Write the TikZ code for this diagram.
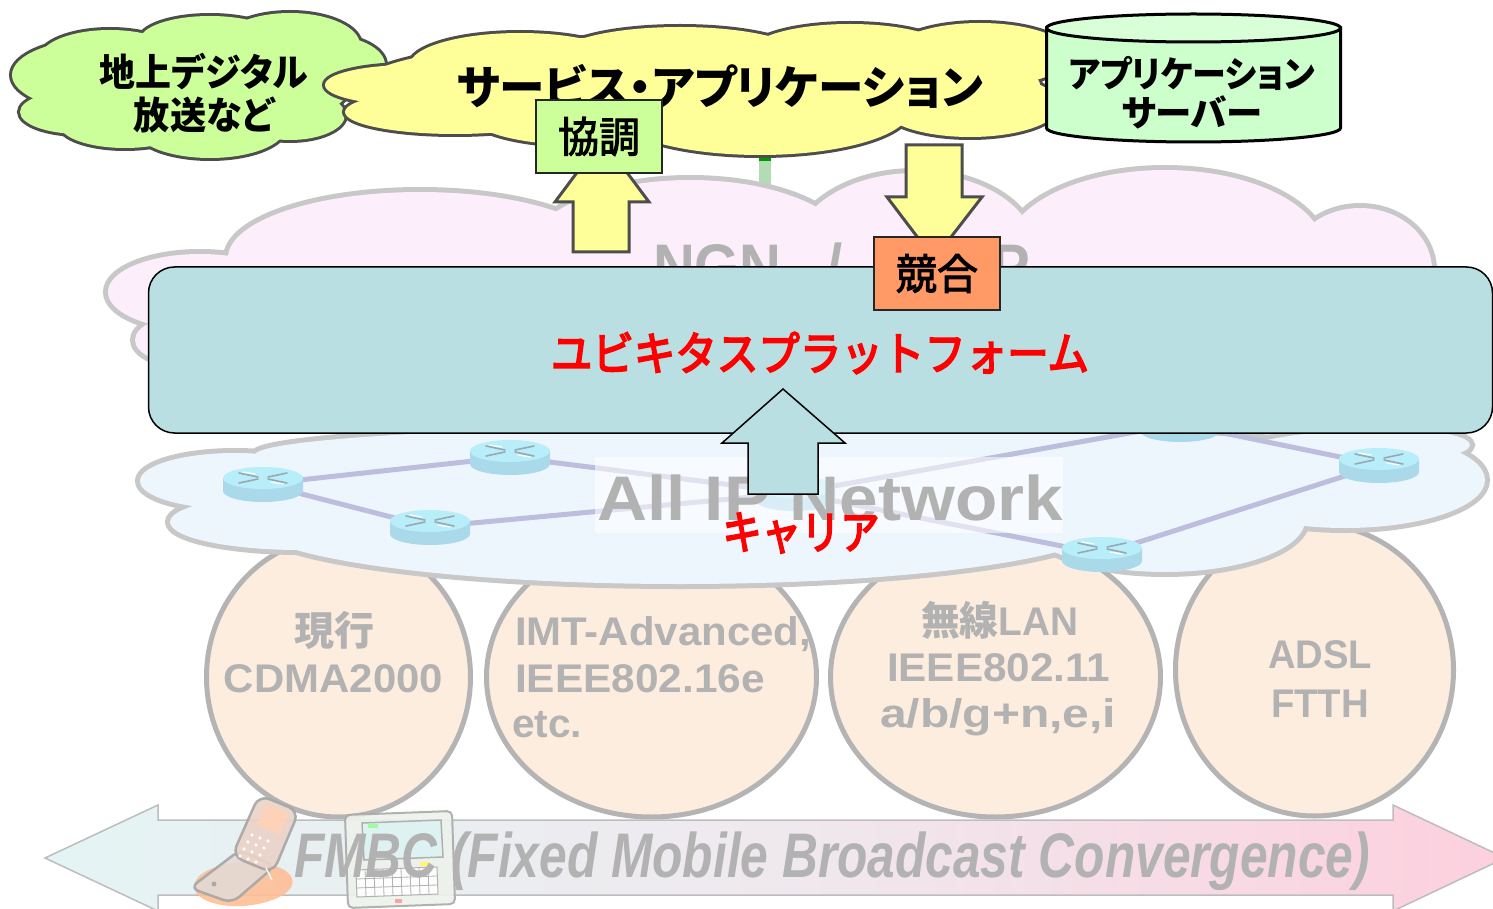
\documentclass[tikz,border=0pt]{standalone}
\usepackage{fontspec}
\usepackage{graphicx}
\setmainfont{Noto Sans CJK JP}[RawFeature=+palt]
\newfontfamily\jpmed{Noto Sans CJK JP}[UprightFeatures={FakeBold=2.5}]
\newfontfamily\jpred{Noto Sans CJK JP}[UprightFeatures={FakeBold=4}]
\newfontfamily\latn{Liberation Sans}
\usetikzlibrary{shapes.geometric}

\definecolor{gtxt}{HTML}{B2B2B2}
\definecolor{cgreen}{HTML}{CCFF99}
\definecolor{cyel}{HTML}{FFFF99}
\definecolor{cline}{HTML}{4D4D4D}
\definecolor{cylfill}{HTML}{CCFFCC}
\definecolor{cyltop}{HTML}{D9FFD9}
\definecolor{ngnfill}{HTML}{FDEEFC}
\definecolor{cloudgray}{HTML}{C8C8C8}
\definecolor{ipfill}{HTML}{EEF6FD}
\definecolor{platfill}{HTML}{B9DFE2}
\definecolor{orng}{HTML}{FF9966}
\definecolor{beige}{HTML}{FDEDDE}
\definecolor{ellline}{HTML}{B4B4B4}
\definecolor{linkc}{HTML}{BDBDDE}
\definecolor{rtop}{HTML}{B8EEFA}
\definecolor{rside}{HTML}{AAD9EA}
\definecolor{rmark}{HTML}{9AA8B0}
\definecolor{arrL}{HTML}{E4F4F4}
\definecolor{arrM}{HTML}{EFE9EE}
\definecolor{arrR}{HTML}{FDD0DE}
\definecolor{arrline}{HTML}{BDBDBD}
\definecolor{lgreen}{HTML}{B2DDB2}
\definecolor{dgreen}{HTML}{009900}
\definecolor{phoneline}{HTML}{A6A6A6}
\definecolor{phonelid}{HTML}{EBD3C8}
\definecolor{phonebody}{HTML}{E4DAD4}
\definecolor{phoneorg}{HTML}{FFBE96}
\definecolor{pdabody}{HTML}{EEF2EC}
\definecolor{pdascreen}{HTML}{DDF3F3}
\definecolor{pdaline}{HTML}{A8ABA8}

% scale a box horizontally to a given width, keeping its height
\newcommand\fitto[2]{\resizebox{#1}{\height}{#2}}
\newcommand\fsz[1]{\fontsize{#1}{#1}\selectfont}
% a cloud as a union of ellipses: outline pass, then fill pass
\newcommand\cloudlobes[4]{%
  \foreach \cx/\cy/\rx/\ry in {#4}{\draw[#2, line width=#3] (\cx,\cy) ellipse [x radius=\rx pt, y radius=\ry pt];}%
  \foreach \cx/\cy/\rx/\ry in {#4}{\fill[#1] (\cx,\cy) ellipse [x radius=\rx pt, y radius=\ry pt];}%
}

\tikzset{
  txt/.style={inner sep=0pt, outer sep=0pt},
  ell/.style={ellipse, draw=ellline, fill=beige, line width=5pt, inner sep=0pt},
  gray label/.style={txt, text=gtxt},
  linkline/.style={linkc, line width=5pt},
  yarrow/.style={fill=cyel, draw=cline, line width=3pt, line join=miter},
  tagbox/.style={draw=black!85, line width=2.5pt, minimum width=126pt, minimum height=73pt, inner sep=0pt},
  router/.pic={
    \fill[rside] (-40,-6) -- (-40,7) arc[start angle=180, end angle=360, x radius=40pt, y radius=11pt] -- (40,-6) -- cycle;
    \fill[rtop] (0,-6) ellipse[x radius=40pt, y radius=11pt];
    \draw[rmark, line width=1.6pt, line cap=round] (-24,-11) -- (-5,-7) (5,-5) -- (24,-1) (-24,-1) -- (-5,-5) (5,-7) -- (24,-11);
    \draw[white, line width=1.2pt, line cap=round] (-20,-12) -- (-8,-10) (8,-2) -- (20,0);
  }
}

\begin{document}
\begin{tikzpicture}[x=1pt, y=-1pt]
\useasboundingbox (0,0) rectangle (1493,909);
\clip (0,0) rectangle (1493,909);
\fill[white] (0,0) rectangle (1493,909);

% link between the service cloud and the NGN cloud
\coordinate (svcfoot) at (765,152);
\coordinate (svcstub) at (765,161);
\coordinate (ngnhead) at (765,196);
\draw[lgreen, line width=12pt] (svcfoot) -- (ngnhead);
\draw[dgreen, line width=12pt] (svcfoot) -- (svcstub);

% NGN cloud
\cloudlobes{ngnfill}{cloudgray}{10pt}{420/258/192/66, 200/292/92/38, 190/340/55/25, 690/250/160/70, 915/250/120/77, 1165/252/160/82, 1360/270/72/62, 800/340/620/90}
\node[gray label, anchor=base west] (ngn) at (653,288) {\latn\bfseries\fsz{63}\scalebox{0.92}[1]{NGN\hspace{49pt}/\hspace{102pt}ISP}};

% access networks
\node[ell, minimum width=264pt, minimum height=280pt] (e1) at (338.5,677) {};
\node[ell, minimum width=330pt, minimum height=280pt] (e2) at (651.5,677) {};
\node[ell, minimum width=330pt, minimum height=280pt] (e3) at (995.5,677) {};
\node[ell, minimum width=278pt, minimum height=292pt] (e4) at (1314.5,670) {};

\node[gray label] (e1a) at (334,630) {\bfseries\fsz{40}\fitto{80pt}{現行}};
\node[gray label, anchor=base] (e1b) at (333.5,692) {\latn\bfseries\fsz{40}\fitto{219pt}{CDMA2000}};
\node[gray label, anchor=base west] (e2a) at (515,645) {\latn\bfseries\fsz{40}\fitto{296pt}{IMT-Advanced,}};
\node[gray label, anchor=base west] (e2b) at (515,692) {\latn\bfseries\fsz{40}\fitto{250pt}{IEEE802.16e}};
\node[gray label, anchor=base west] (e2c) at (512,737) {\latn\bfseries\fsz{40}\fitto{70pt}{etc.}};
\node[gray label, anchor=base] (e3a) at (999.5,635) {\fitto{157pt}{\bfseries\fsz{40}無線{\latn LAN}}};
\node[gray label, anchor=base] (e3b) at (998.5,681) {\latn\bfseries\fsz{40}\fitto{223pt}{IEEE802.11}};
\node[gray label, anchor=base] (e3c) at (998,727) {\latn\bfseries\fsz{40}\fitto{236pt}{a/b/g+n,e,i}};
\node[gray label, anchor=base] (e4a) at (1320,668) {\latn\bfseries\fsz{40}\fitto{104pt}{ADSL}};
\node[gray label, anchor=base] (e4b) at (1320,717) {\latn\bfseries\fsz{40}\fitto{98pt}{FTTH}};

% all-IP cloud
\cloudlobes{ipfill}{cloudgray}{10pt}{235/481/95/28, 300/522/130/28, 680/522/430/62, 1165/520/140/52, 1345/480/140/48, 1400/445/70/15, 800/455/545/30, 800/495/600/55}

% routers and their links
\coordinate (ra) at (263,484);
\coordinate (rb) at (510,457);
\coordinate (rc) at (430,527);
\coordinate (rh) at (795,493);
\coordinate (rd) at (1102,554);
\coordinate (rg) at (1180,424);
\coordinate (re) at (1379,465);
\draw[linkline] (ra) -- (rb) (ra) -- (rc) (rb) -- (rh) (rc) -- (rh) (rh) -- (rd) (rh) -- (rg) (rg) -- (re) (rd) -- (re);
\foreach \r in {ra,rb,rc,rh,rd,rg,re} \pic at (\r) {router};

% label backdrop and label
\fill[white, opacity=0.55] (595,457) rectangle (1063,533);
\node[gray label, anchor=base west] (ipnet) at (597,520) {\latn\bfseries\fsz{63}\fitto{466pt}{All IP Network}};

% ubiquitous platform
\node[draw=black, fill=platfill, line width=1.5pt, rounded corners=26pt, minimum width=1344pt, minimum height=166pt, inner sep=0pt] (plat) at (820.5,350) {};
\node[txt, text=red] (ubiq) at (820,353) {\jpred\fsz{46}\fitto{538pt}{ユビキタスプラットフォーム}};

% carrier arrow into the platform
\path[fill=platfill, draw=black, line width=1.5pt] (783,389) -- (845,443) -- (818,443) -- (818,494) -- (748,494) -- (748,443) -- (722,443) -- cycle;
\node[txt, text=red] (carrier) at (801,533) {\jpred\fsz{46}\fitto{157pt}{キャリア}};

% convergence double arrow
\shadedraw[left color=arrL, right color=arrR, middle color=arrM, draw=arrline, line width=1.5pt]
  (45,858) -- (158,805) -- (158,820) -- (1393,820) -- (1393,805) -- (1505,858) -- (1393,911) -- (1393,895) -- (158,895) -- (158,911) -- cycle;

% handset
\begin{scope}[opacity=0.9]
\fill[phoneorg] (196,880) .. controls (210,858) and (282,856) .. (292,878) .. controls (298,896) and (258,908) .. (230,906) .. controls (206,904) and (188,894) .. (196,880);
\filldraw[fill=phonebody, draw=phoneline, line width=2.5pt, rounded corners=9pt] (240,850) -- (275,866) -- (232,903) -- (190,888) -- cycle;
\filldraw[fill=phonelid, draw=phoneline, line width=2.5pt, rounded corners=11pt] (259,795) -- (299,811) -- (273,873) -- (232,856) -- cycle;
\fill[phoneorg!70!white] (266,804) -- (289,814) -- (280,835) -- (257,825) -- cycle;
\foreach \i in {0,1,2}{\foreach \j in {0,1,2,3}{\fill[white] (252+8*\i-4*\j, 835+7*\j+3*\i) circle[radius=1.8pt];}}
\draw[white, line width=1.5pt] (266,868) -- (272,880);
\fill[phoneline] (214,884) circle[radius=2.5pt];
\end{scope}

% handheld terminal
\begin{scope}[opacity=0.9]
\filldraw[fill=pdabody, draw=pdaline, line width=2pt, rounded corners=5pt] (345,815) -- (452,811) -- (455,904) -- (348,908) -- cycle;
\filldraw[fill=pdascreen, draw=pdaline, line width=1.5pt] (362,823) -- (441,820) -- (443,857) -- (364,860) -- cycle;
\filldraw[fill=white, draw=pdaline, line width=1pt] (356,870) -- (437,867) -- (438,894) -- (357,897) -- cycle;
\foreach \k in {1,...,8}{\draw[pdaline, line width=0.8pt] (356+9*\k, 870-0.33*\k) -- (357+9*\k, 897-0.33*\k);}
\foreach \k in {1,2}{\draw[pdaline, line width=0.8pt] (356, 870+9*\k) -- (437, 867+9*\k);}
\fill[green!40!white] (368,824) rectangle (378,828);
\fill[yellow!60!white] (420,862) rectangle (430,866);
\fill[red!40!white] (395,899) rectangle (402,903);
\end{scope}

\node[gray label, anchor=base west] (fmbc) at (294,877) {\latn\bfseries\itshape\fsz{63}\fitto{1076pt}{FMBC (Fixed Mobile Broadcast Convergence)}};

% terrestrial broadcasting cloud
\cloudlobes{cgreen}{cline}{6pt}{100/75/88/36, 110/58/70/28, 210/40/70/24, 290/45/70/32, 325/65/60/30, 290/115/55/25, 210/128/75/30, 125/125/65/23, 80/112/60/22, 200/85/150/50}
\node[txt] (terr1) at (204,72) {\bfseries\fsz{38}\fitto{208pt}{地上デジタル}};
\node[txt] (terr2) at (204,115) {\bfseries\fsz{38}\fitto{140pt}{放送など}};

% services and applications cloud
\cloudlobes{cyel}{cline}{6pt}{410/85/85/20, 455/112/110/22, 520/65/110/32, 680/55/120/28, 850/52/100/28, 980/55/90/32, 970/105/90/32, 760/110/150/45, 580/115/110/30, 700/85/340/50}
\node[txt] (svc) at (720,86) {\bfseries\fsz{46}\fitto{526pt}{サービス・アプリケーション}};

% application server
\path[fill=cylfill, draw=black, line width=3pt] (1046.5,28) -- (1046.5,128) arc[start angle=180, end angle=360, x radius=147pt, y radius=14pt] -- (1340.5,28) -- cycle;
\path[fill=cyltop, draw=black, line width=3pt] (1193.5,28) ellipse[x radius=147pt, y radius=14pt];
\node[txt] (srv1) at (1192,73) {\bfseries\fsz{36}\fitto{247pt}{アプリケーション}};
\node[txt] (srv2) at (1192,112) {\bfseries\fsz{36}\fitto{141pt}{サーバー}};

% cooperation and competition arrows
\path[yarrow] (602,139) -- (649,202) -- (629,202) -- (629,252) -- (573,252) -- (573,202) -- (555,202) -- cycle;
\path[yarrow] (906,145) -- (962,145) -- (962,197) -- (982,197) -- (934,259) -- (887,197) -- (906,197) -- cycle;

\node[tagbox, fill=cgreen] (kyo) at (599,136.5) {\jpmed\fsz{42}\fitto{82pt}{協調}};
\node[tagbox, fill=orng] (kyoso) at (937,273.5) {\jpmed\fsz{42}\fitto{82pt}{競合}};
\end{tikzpicture}
\end{document}
